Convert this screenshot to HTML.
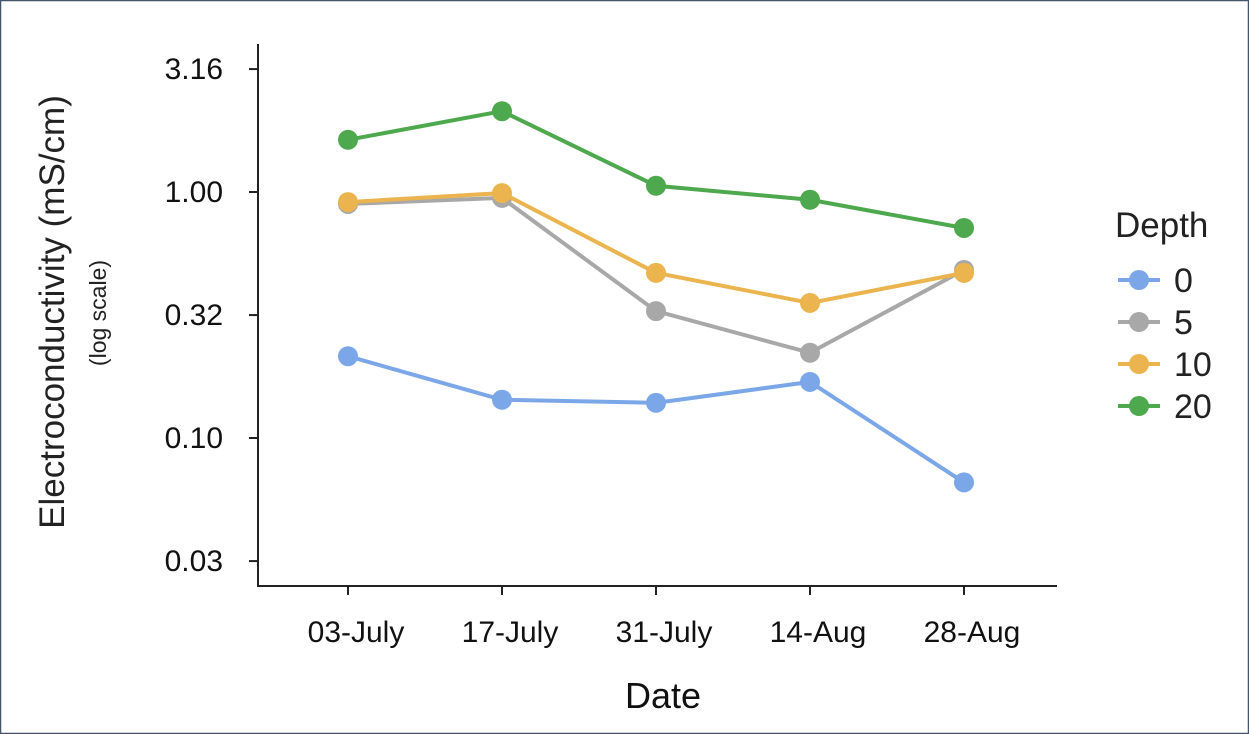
<!DOCTYPE html>
<html><head><meta charset="utf-8"><style>
body{margin:0;background:#fff}
svg{display:block;font-family:"Liberation Sans",sans-serif}
</style></head><body>
<svg width="1249" height="734" viewBox="0 0 1249 734">
<rect x="0.5" y="0.5" width="1248" height="733" fill="#fff" stroke="#44546a" stroke-width="1.5"/>
<g id="plot"></g>
<g id="legend"></g>
</svg>
<script>
const categories=["03-July","17-July","31-July","14-Aug","28-Aug"];
const tickValues=[3.16,1.0,0.316,0.1,0.0316];
const tickLabels=["3.16","1.00","0.32","0.10","0.03"];
const seriesNames=["0","5","10","20"];
const s0=[0.215,0.143,0.139,0.169,0.066];
const s5=[0.894,0.946,0.328,0.222,0.482];
const s10=[0.91,0.99,0.469,0.354,0.469];
const s20=[1.63,2.13,1.06,0.93,0.714];
const colors=["#7ba7e9","#a8a8a8","#ebb44f","#4ea84d"];
const series=[s0,s5,s10,s20];
const NS="http://www.w3.org/2000/svg";
const plot=document.getElementById('plot'),legend=document.getElementById('legend');
function mk(p,t,a){const e=document.createElementNS(NS,t);for(const k in a)e.setAttribute(k,a[k]);p.appendChild(e);return e;}
const x=i=>348+i*154;
const y=v=>192-246*Math.log10(v);
let e;
e=mk(plot,'line',{x1:258,y1:44,x2:258,y2:587,stroke:'#222','stroke-width':2});


e=mk(plot,'line',{x1:257,y1:586,x2:1057,y2:586,stroke:'#222','stroke-width':2});


tickValues.forEach((v,i)=>{
 e=mk(plot,'line',{x1:249,y1:y(v),x2:258,y2:y(v),stroke:'#222','stroke-width':2});
 
 
 e=mk(plot,'text',{x:223,y:y(v)+10,'text-anchor':'end','font-size':30,fill:'#111'});e.textContent=tickLabels[i];
 
 
});
categories.forEach((c,i)=>{
 e=mk(plot,'line',{x1:x(i),y1:586,x2:x(i),y2:595,stroke:'#222','stroke-width':2});
 
 
 e=mk(plot,'text',{x:x(i)+8,y:642,'text-anchor':'middle','font-size':30,fill:'#111'});e.textContent=c;
 
 
});
e=mk(plot,'text',{x:663,y:708,'text-anchor':'middle','font-size':36,fill:'#111'});e.textContent='Date';


e=mk(plot,'text',{x:64,y:312,'text-anchor':'middle','font-size':35,fill:'#222',transform:'rotate(-90 64 312)'});e.textContent='Electroconductivity (mS/cm)';


e=mk(plot,'text',{x:106,y:313,'text-anchor':'middle','font-size':23,fill:'#222',transform:'rotate(-90 106 313)'});e.textContent='(log scale)';


series.forEach((s,k)=>{
 e=mk(plot,'polyline',{points:s.map((v,i)=>x(i)+','+y(v)).join(' '),fill:'none',stroke:colors[k],'stroke-width':4});
 
 
 s.forEach((v,i)=>{
  e=mk(plot,'circle',{cx:x(i),cy:y(v),r:10,fill:colors[k]});
  
  
 });
});
e=mk(legend,'text',{x:1115,y:237,'font-size':35,fill:'#222'});e.textContent='Depth';


const ly=[280,322,364,406];
seriesNames.forEach((n,k)=>{
 e=mk(legend,'line',{x1:1118,y1:ly[k],x2:1160,y2:ly[k],stroke:colors[k],'stroke-width':4});
 
 
 e=mk(legend,'circle',{cx:1139,cy:ly[k],r:10,fill:colors[k]});
 
 
 e=mk(legend,'text',{x:1174,y:ly[k]+12,'font-size':34,fill:'#222'});e.textContent=n;
 
 
});
</script>
</body></html>
